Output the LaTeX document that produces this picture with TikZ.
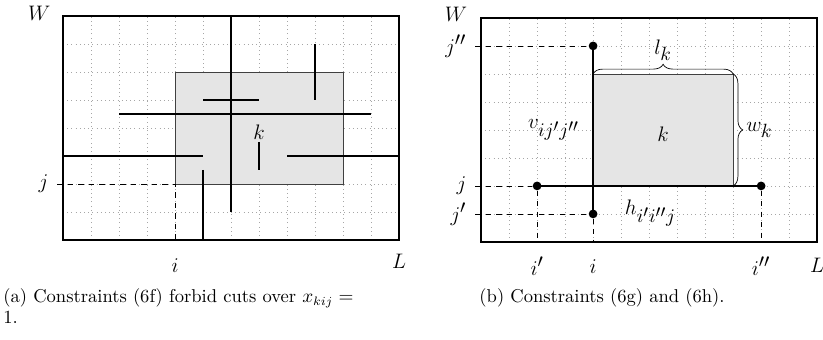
\documentclass[tikz,border=0pt]{standalone}
\usepackage{amsmath,amssymb}
\usetikzlibrary{decorations.pathreplacing}
\DeclareMathSizes{12}{12}{10.95}{10}

\begin{document}
\begin{tikzpicture}[x=16pt, y=16pt,
  font=\fontsize{12}{14}\selectfont,
  frame/.style={very thick},
  cut/.style={very thick},
  gridline/.style={dotted, gray!70, thin, step=1},
  item/.style={draw=black!75, fill=black!10},
  guide/.style={dashed, thin},
  pt/.style={circle, fill, inner sep=0pt, minimum size=5pt},
  ylbl/.style={anchor=east, inner xsep=5pt},
  brace/.style={decorate, decoration={brace, amplitude=5.5pt}},
  caption/.style={anchor=north west, inner sep=0pt, align=left,
    font=\fontsize{10.6}{12}\selectfont}
]
\useasboundingbox (-2.25,-3.57) rectangle (27.14,8.57);

% (a) cuts crossing item k
\draw[gridline] (0,0) grid (12,8);
\draw[item] (4,2) rectangle (10,6);
\draw[frame] (0,0) rectangle (12,8);
\draw[cut] (6,8) -- (6,1);
\draw[cut] (9,7) -- (9,5);
\draw[cut] (5,5) -- (7,5);
\draw[cut] (2,4.5) -- (11,4.5);
\draw[cut] (0,3) -- (5,3);
\draw[cut] (7,3.5) -- (7,2.5);
\draw[cut] (8,3) -- (12,3);
\draw[cut] (5,2.5) -- (5,0);
\node (kA) at (7,3.85) {$k$};
\node (WA) at (-0.85,8.1) {$W$};
\node (LA) at (12,-0.75) {$L$};
\node (iA) at (4,-0.9) {$i$};
\node[ylbl] (jA) at (-0.2,2) {$j$};
\coordinate (cA) at (4,2);
\coordinate (bA) at (4,0);
\draw[guide] (jA) -- (cA) -- (bA);

% (b) vertical and horizontal cut through the corner
\begin{scope}[shift={(14.93,-0.07)}]
\draw[gridline] (0,0) grid (12,8);
\draw[item] (4,2) rectangle (9,6);
\draw[frame] (0,0) rectangle (12,8);
\node[pt] (top) at (4,7) {};
\node[pt] (bot) at (4,1) {};
\node[pt] (lft) at (2,2) {};
\node[pt] (rgt) at (10,2) {};
\draw[cut] (bot.center) -- (top.center);
\draw[cut] (lft.center) -- (rgt.center);
\draw[brace] (4,6) -- node[above=4pt] (lk) {$l_k$} (9,6);
\draw[brace] (9,6) -- node[right=4pt] (wk) {$w_k$} (9,2);
\node (kB) at (6.5,3.85) {$k$};
\node (vB) at (2.6,4) {$v_{ij'j''}$};
\node (hB) at (6.05,1.02) {$h_{i'i''j}$};
\node (WB) at (-0.9,8.12) {$W$};
\node (LB) at (12,-0.85) {$L$};
\node[ylbl] (jppB) at (-0.2,7) {$j''$};
\node[ylbl] (jB) at (-0.2,2) {$j$};
\node[ylbl] (jpB) at (-0.2,1) {$j'$};
\node (ipB) at (2,-0.87) {$i'$};
\node (iB) at (4,-0.87) {$i$};
\node (ippB) at (10,-0.87) {$i''$};
\coordinate (b2) at (2,0);
\coordinate (b4) at (4,0);
\coordinate (b10) at (10,0);
\draw[guide] (jppB) -- (top);
\draw[guide] (jB) -- (lft);
\draw[guide] (jpB) -- (bot);
\draw[guide] (lft) -- (b2);
\draw[guide] (bot) -- (b4);
\draw[guide] (rgt) -- (b10);
\end{scope}

% captions
\node[caption] (capA) at (-2.14,-1.71) {(a) Constraints (6f) forbid cuts over $x_{kij} =$\\1.};
\node[caption] (capB) at (14.86,-1.71) {(b) Constraints (6g) and (6h).};
\end{tikzpicture}
\end{document}
